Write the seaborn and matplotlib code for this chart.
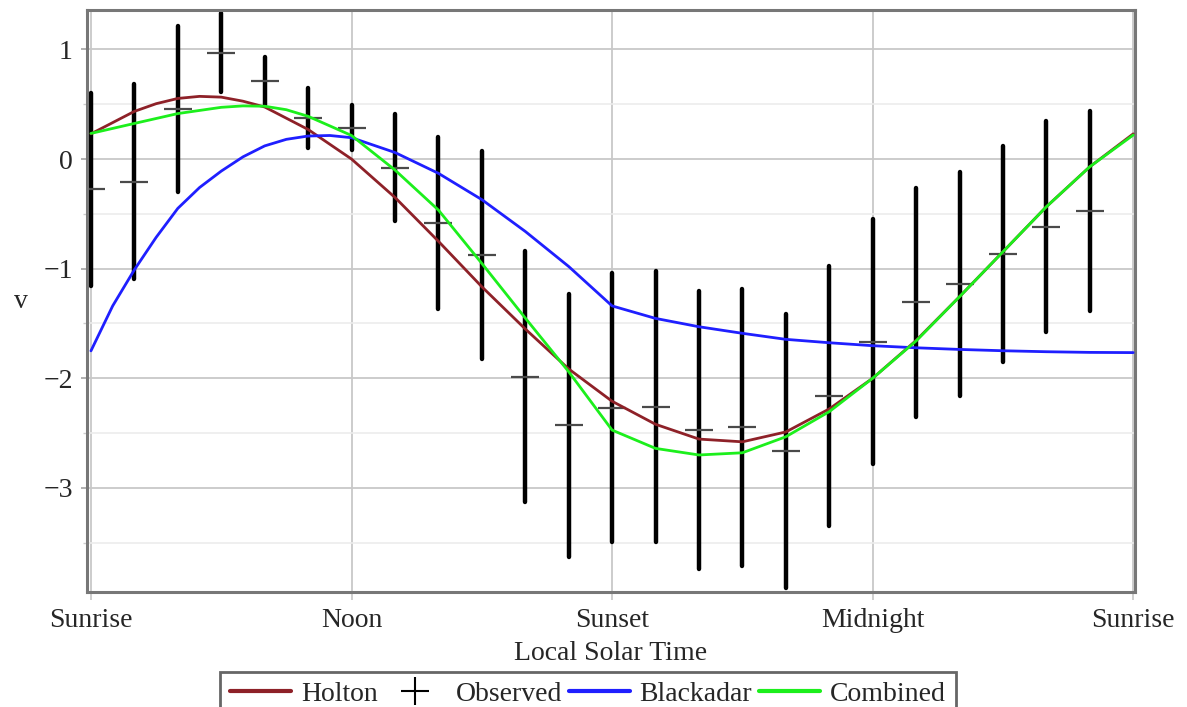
import numpy as np
import pandas as pd
import matplotlib
matplotlib.use("Agg")
import matplotlib.pyplot as plt
from matplotlib.lines import Line2D
from matplotlib.ticker import MultipleLocator
import seaborn as sns

# ---- data ----
hol_hours = [0, 1, 1.5, 2, 2.5, 3, 3.5, 4, 5, 6, 7, 8, 9, 10, 11, 12, 13, 14, 15,
             16, 17, 18, 19, 20, 21, 22, 23, 24]
holton = [0.23, 0.435, 0.505, 0.553, 0.572, 0.565, 0.528, 0.475, 0.27, 0.0, -0.35,
          -0.75, -1.165, -1.55, -1.915, -2.21, -2.42, -2.555, -2.58, -2.49, -2.28,
          -2.0, -1.655, -1.256, -0.846, -0.435, -0.07, 0.23]
com_hours = [0, 1, 2, 3, 3.5, 4, 4.5, 5, 6, 7, 8, 9, 10, 11, 12, 13, 14, 15, 16,
             17, 18, 19, 20, 21, 22, 23, 24]
combined = [0.234, 0.325, 0.415, 0.472, 0.485, 0.482, 0.45, 0.39, 0.215, -0.10,
            -0.465, -0.952, -1.45, -1.94, -2.473, -2.64, -2.70, -2.68, -2.534, -2.305,
            -2.0, -1.66, -1.256, -0.846, -0.435, -0.07, 0.219]
blk_hours = [0, 0.5, 1, 1.5, 2, 2.5, 3, 3.5, 4, 4.5, 5, 5.5, 6, 7, 8, 9, 10, 11, 12,
             13, 14, 15, 16, 17, 18, 19, 20, 21, 22, 23, 24]
blackadar = [-1.75, -1.34, -1.01, -0.715, -0.45, -0.26, -0.11, 0.02, 0.12, 0.18, 0.21,
             0.215, 0.195, 0.06, -0.13, -0.37, -0.66, -0.98, -1.34, -1.454, -1.53,
             -1.59, -1.645, -1.676, -1.703, -1.722, -1.737, -1.749, -1.758, -1.764, -1.766]

obs_hours = list(range(24))
obs_mean = [-0.274, -0.207, 0.453, 0.970, 0.712, 0.374, 0.286, -0.079, -0.581, -0.876,
            -1.986, -2.43, -2.269, -2.260, -2.473, -2.448, -2.66, -2.162, -1.667, -1.307,
            -1.14, -0.867, -0.618, -0.472]
obs_std = [0.88, 0.89, 0.757, 0.36, 0.22, 0.27, 0.205, 0.49, 0.783, 0.95,
           1.145, 1.20, 1.225, 1.236, 1.27, 1.262, 1.25, 1.186, 1.118, 1.043,
           1.02, 0.987, 0.962, 0.912]

tick_pos = [0, 6, 12, 18, 24]
tick_labels = ["Sunrise", "Noon", "Sunset", "Midnight", "Sunrise"]

# ---- style ----
sns.set_style("white")
plt.rcParams["font.family"] = ["Liberation Serif", "DejaVu Serif"]
plt.rcParams["axes.unicode_minus"] = True

C_HOLTON = "#8e2128"
C_BLUE = "#1f1fff"
C_GREEN = "#1cef1c"

fig = plt.figure(figsize=(11.87, 7.07), dpi=100)
ax = fig.add_axes([0.0737, 1 - 592.3 / 707, 0.9558 - 0.0737, (592.3 - 10) / 707])

# observed with error bars
eb = ax.errorbar(obs_hours, obs_mean, yerr=obs_std, fmt="_", ms=19.5, mew=1.6,
                 color="#4a4a4a", ecolor="black", elinewidth=3.2, capsize=0, zorder=2)
for lc in eb[2]:
    lc.set_capstyle("round")

df_h = pd.DataFrame({"t": hol_hours, "v": holton})
df_c = pd.DataFrame({"t": com_hours, "v": combined})
df_b = pd.DataFrame({"t": blk_hours, "v": blackadar})
sns.lineplot(data=df_h, x="t", y="v", color=C_HOLTON, lw=2.0, ax=ax, sort=False, zorder=3)
sns.lineplot(data=df_b, x="t", y="v", color=C_BLUE, lw=2.0, ax=ax, sort=False, zorder=3)
sns.lineplot(data=df_c, x="t", y="v", color=C_GREEN, lw=2.0, ax=ax, sort=False, zorder=4)

ax.set_xlim(-0.08, 24.03)
ax.set_ylim(-3.953, 1.36)
ax.set_xticks(tick_pos)
ax.set_xticklabels(tick_labels)
ax.set_yticks([-3, -2, -1, 0, 1])
ax.yaxis.set_minor_locator(MultipleLocator(0.5))

ax.grid(which="major", color="#c8c8c8", lw=1.3, zorder=0)
ax.grid(which="minor", axis="y", color="#ececec", lw=1.2, zorder=0)
ax.set_axisbelow(True)

for s in ax.spines.values():
    s.set_color("#777777")
    s.set_linewidth(2.2)
    s.set_visible(True)

ax.tick_params(axis="x", which="major", length=6, width=1.3, color="#cccccc",
               labelsize=20, pad=5, bottom=True)
ax.tick_params(axis="y", which="major", length=4.5, width=1.3, color="#aaaaaa",
               labelsize=20, pad=6, left=True)
ax.tick_params(axis="y", which="minor", length=3, width=1.0, color="#cccccc", left=True)

ax.set_xlabel("Local Solar Time", fontsize=20, labelpad=6)
ax.set_ylabel("v", fontsize=20, rotation=0, va="center", ha="center")
ax.yaxis.set_label_coords(-0.0635, 0.5)

handles = [
    Line2D([], [], color=C_HOLTON, lw=3),
    Line2D([], [], color="black", marker="+", ls="none", ms=20, mew=1.5),
    Line2D([], [], color=C_BLUE, lw=3),
    Line2D([], [], color=C_GREEN, lw=3),
]
labels = ["Holton", "Observed", "Blackadar", "Combined"]
leg = fig.legend(handles, labels, loc="upper center",
                 bbox_to_anchor=(0.4954, 1 - 671.7 / 707), ncol=4, frameon=True,
                 fancybox=False, edgecolor="#666666", framealpha=1, fontsize=20,
                 handlelength=2.2, handletextpad=0.35, columnspacing=0.25,
                 borderpad=0.35, borderaxespad=0)
leg.get_frame().set_linewidth(2)

fig.savefig("out.png", dpi=100)
